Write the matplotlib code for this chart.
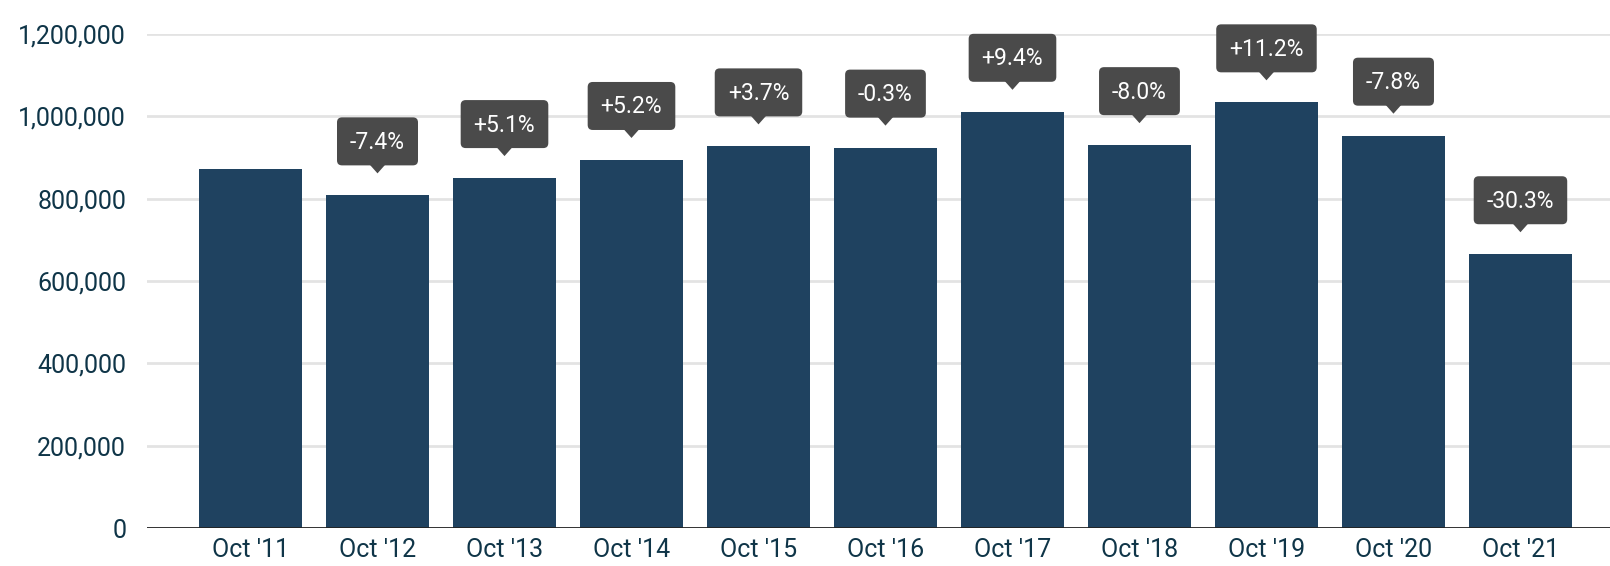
import numpy as np
import matplotlib
matplotlib.use("Agg")
import matplotlib.pyplot as plt
from matplotlib import transforms
from matplotlib.patches import FancyBboxPatch, Polygon

# data
months = ["Oct '11", "Oct '12", "Oct '13", "Oct '14", "Oct '15", "Oct '16",
          "Oct '17", "Oct '18", "Oct '19", "Oct '20", "Oct '21"]
values = [872000, 808000, 850000, 894000, 927000, 924000,
          1011000, 930000, 1034000, 953000, 665000]
changes = [None, "-7.4%", "+5.1%", "+5.2%", "+3.7%", "-0.3%",
           "+9.4%", "-8.0%", "+11.2%", "-7.8%", "-30.3%"]

BAR = "#1f4260"
TXT = "#0f3548"
BOX = "#4a4a4a"

plt.rcParams["font.family"] = ["Roboto", "DejaVu Sans"]

fig = plt.figure(figsize=(16.1, 5.66), dpi=100)
ax = fig.add_axes([147 / 1610, 1 - 528 / 566, 1 - 147 / 1610, (528 - 34) / 566])

x = np.arange(len(values))
ax.bar(x, values, width=0.81, color=BAR, zorder=2)
ax.set_xlim(-0.815, 10.705)
ax.set_ylim(0, 1200000)
ax.set_yticks(np.arange(0, 1200001, 200000))
ax.set_yticklabels([f"{v:,}" for v in range(0, 1200001, 200000)])
ax.set_xticks(x)
ax.set_xticklabels(months)
ax.tick_params(length=0, labelsize=18, labelcolor=TXT)
ax.tick_params(axis="y", pad=15)
ax.tick_params(axis="x", pad=7)
ax.grid(axis="y", color="#e3e3e3", linewidth=2, zorder=0)
for s in ax.spines.values():
    s.set_visible(False)
ax.axhline(0, color="#222222", linewidth=2, zorder=3)

# callout boxes with a pointer (sizes in pixels)
renderer = fig.canvas.get_renderer()
ident = transforms.IdentityTransform()
for i, (v, c) in enumerate(zip(values, changes)):
    if c is None:
        continue
    px, py = ax.transData.transform((i, v))
    t = ax.text(i, v, c, transform=transforms.offset_copy(ax.transData, fig=fig, x=0, y=53, units="dots"),
                ha="center", va="center", color="white", fontsize=16.5, zorder=6, clip_on=False)
    w = t.get_window_extent(renderer).width + 26
    box = FancyBboxPatch((px - w / 2, py + 30), w, 48, boxstyle="round,pad=0,rounding_size=5",
                         fc=BOX, ec="none", transform=ident, zorder=5, clip_on=False)
    tri = Polygon([(px - 8, py + 31), (px + 8, py + 31), (px, py + 22)], closed=True,
                  fc=BOX, ec="none", transform=ident, zorder=5, clip_on=False)
    ax.add_artist(box)
    ax.add_artist(tri)

fig.savefig("out.png", dpi=100)
